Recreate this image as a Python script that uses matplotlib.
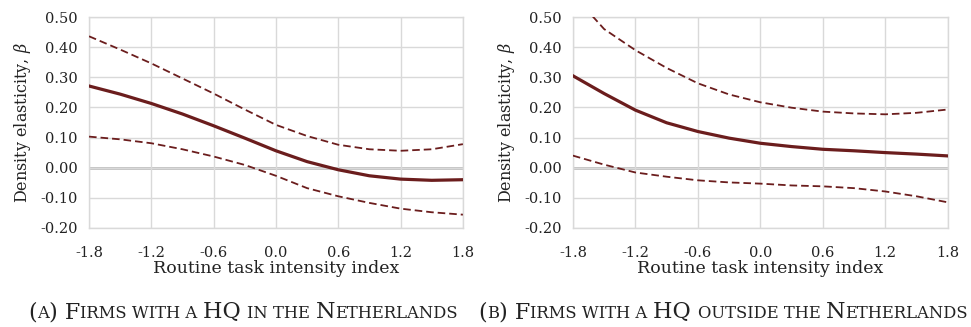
import matplotlib.pyplot as plt

plt.rcParams['font.family'] = 'DejaVu Serif'
plt.rcParams['mathtext.fontset'] = 'dejavuserif'
plt.rcParams['axes.unicode_minus'] = False

# x positions (routine task intensity index)
rti = [-1.8, -1.5, -1.2, -0.9, -0.6, -0.3, 0.0, 0.3, 0.6, 0.9, 1.2, 1.5, 1.8]

# (a) firms with HQ in the Netherlands
nl_beta = [0.271, 0.244, 0.213, 0.178, 0.139, 0.098, 0.056, 0.020, -0.007, -0.027, -0.038, -0.042, -0.040]
nl_upper = [0.436, 0.392, 0.346, 0.296, 0.246, 0.193, 0.142, 0.105, 0.076, 0.061, 0.056, 0.061, 0.078]
nl_lower = [0.103, 0.094, 0.081, 0.061, 0.037, 0.009, -0.027, -0.068, -0.095, -0.117, -0.136, -0.148, -0.156]

# (b) firms with HQ outside the Netherlands
fo_beta = [0.305, 0.246, 0.191, 0.149, 0.120, 0.098, 0.081, 0.070, 0.061, 0.056, 0.050, 0.045, 0.039]
fo_upper = [0.575, 0.460, 0.390, 0.331, 0.280, 0.243, 0.217, 0.199, 0.186, 0.180, 0.177, 0.182, 0.193]
fo_lower = [0.040, 0.010, -0.016, -0.030, -0.042, -0.049, -0.053, -0.059, -0.062, -0.068, -0.079, -0.095, -0.115]

xticks = [-1.8, -1.2, -0.6, 0.0, 0.6, 1.2, 1.8]
yticks = [-0.2, -0.1, 0.0, 0.1, 0.2, 0.3, 0.4, 0.5]

line_col = '#6B1D1D'
grid_col = '#D9D9D9'

fig = plt.figure(figsize=(9.71, 3.27), dpi=100)
ax1 = fig.add_axes([0.0917, 0.303, 0.385, 0.645])
ax2 = fig.add_axes([0.590, 0.303, 0.386, 0.645])

for ax, b, up, lo in [(ax1, nl_beta, nl_upper, nl_lower), (ax2, fo_beta, fo_upper, fo_lower)]:
    ax.axhline(0, color='#BFBFBF', linewidth=2.0, zorder=1)
    ax.plot(rti, up, color=line_col, linewidth=1.3, linestyle=(0, (4.2, 2.2)), zorder=3)
    ax.plot(rti, lo, color=line_col, linewidth=1.3, linestyle=(0, (4.2, 2.2)), zorder=3)
    ax.plot(rti, b, color=line_col, linewidth=2.3, zorder=4)
    ax.set_xlim(-1.8, 1.8)
    ax.set_ylim(-0.2, 0.5)
    ax.set_xticks(xticks)
    ax.set_xticklabels(['%.1f' % v for v in xticks])
    ax.set_yticks(yticks)
    ax.set_yticklabels(['%.2f' % v for v in yticks])
    ax.grid(True, color=grid_col, linewidth=1.0, zorder=0)
    for s in ax.spines.values():
        s.set_color(grid_col)
        s.set_linewidth(1.0)
    ax.tick_params(length=0, labelsize=10.5, colors='#222222')
    ax.tick_params(axis='x', pad=13)
    ax.tick_params(axis='y', pad=8)
    ax.set_xlabel('Routine task intensity index', fontsize=12.5, labelpad=0, color='#222222')
    ax.set_ylabel(r'Density elasticity, $\beta$', fontsize=11.5, labelpad=5, color='#222222')

# captions in small caps, built from pieces
big, small = 16, 11.8
cap_a = [('(', big), ('A', small), (') F', big), ('IRMS WITH A ', small), ('HQ ', big),
         ('IN THE ', small), ('N', big), ('ETHERLANDS', small)]
cap_b = [('(', big), ('B', small), (') F', big), ('IRMS WITH A ', small), ('HQ ', big),
         ('OUTSIDE THE ', small), ('N', big), ('ETHERLANDS', small)]

renderer = fig.canvas.get_renderer()


def draw_caption(pieces, xc, y):
    texts = []
    widths = []
    for s, fs in pieces:
        t = fig.text(0, y, s, fontsize=fs, ha='left', va='baseline', color='#222222')
        texts.append(t)
        widths.append(t.get_window_extent(renderer).width / fig.bbox.width)
    x = xc - sum(widths) / 2
    for t, w in zip(texts, widths):
        t.set_x(x)
        x += w


draw_caption(cap_a, 243 / 971, 1 - 318 / 327)
draw_caption(cap_b, 723 / 971, 1 - 318 / 327)

plt.savefig('out.png', dpi=100)
